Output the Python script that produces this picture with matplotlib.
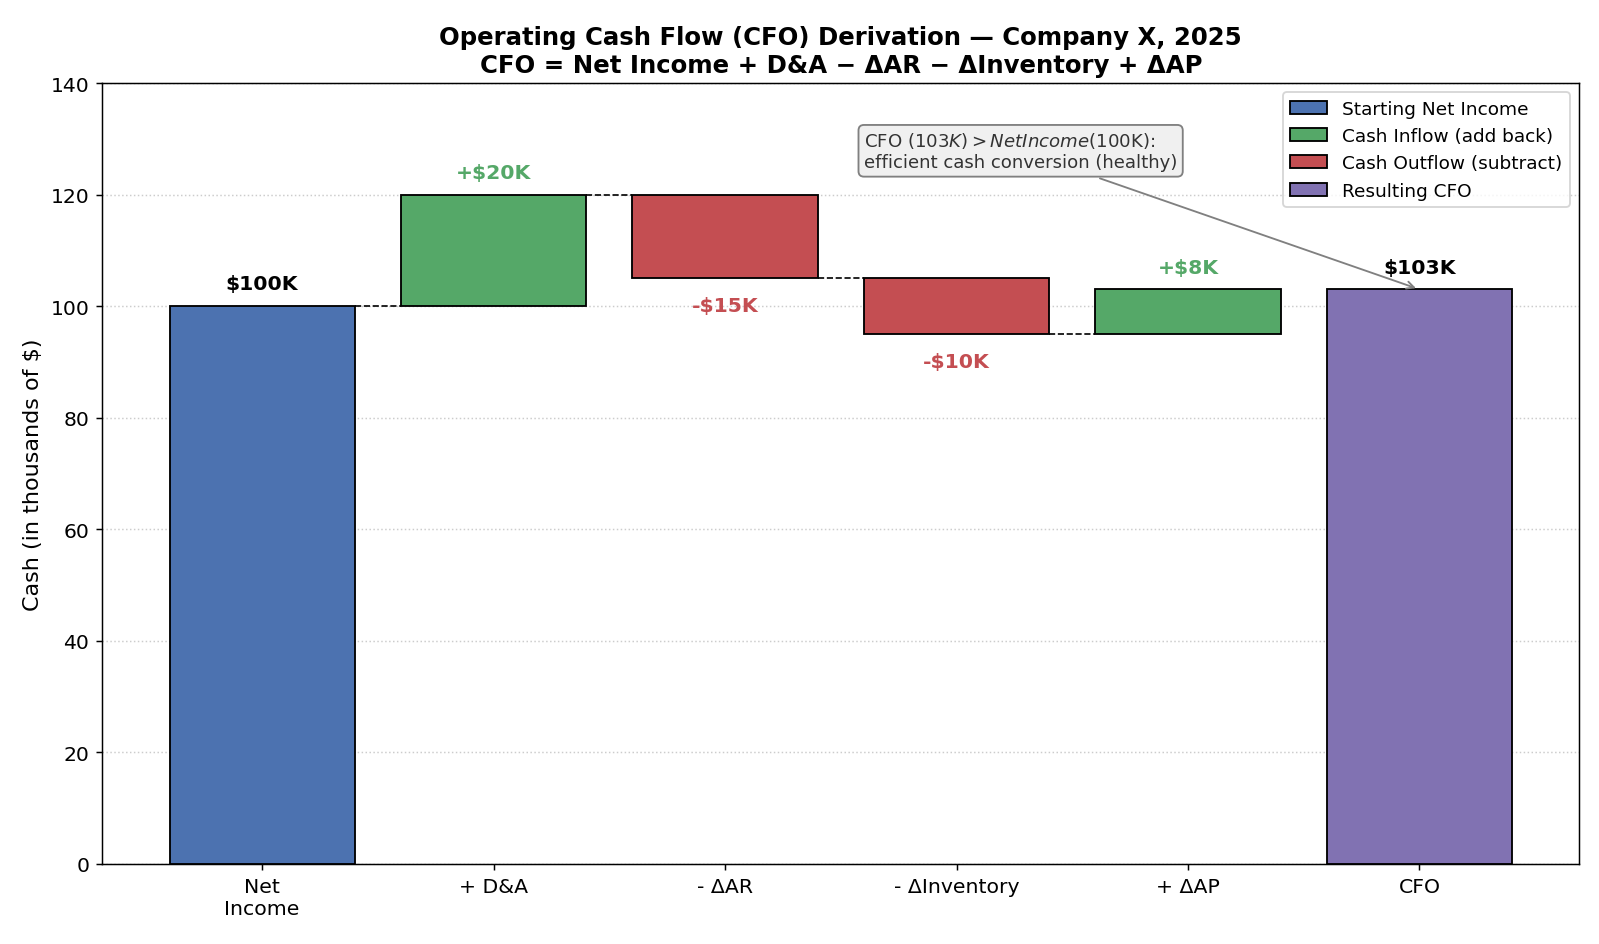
import matplotlib
matplotlib.use("Agg")
import matplotlib.pyplot as plt
from matplotlib.patches import Patch

# waterfall steps, thousands of $
labels = ["Net\nIncome", "+ D&A", "- ΔAR", "- ΔInventory", "+ ΔAP", "CFO"]
changes = [100, 20, -15, -10, 8]
kinds = ["start", "in", "out", "out", "in", "end"]

colors = {"start": "#4C72B0", "in": "#55A868", "out": "#C44E52", "end": "#8172B2"}

cfo = sum(changes)
bottoms, heights = [], []
running = 0
for i, c in enumerate(changes):
    if i == 0:
        bottoms.append(0)
        heights.append(c)
    else:
        bottoms.append(min(running, running + c))
        heights.append(abs(c))
    running += c
bottoms.append(0)
heights.append(cfo)

fig, ax = plt.subplots(figsize=(12, 7.0875), dpi=133.333)
x = list(range(len(labels)))
ax.bar(x, heights, bottom=bottoms, width=0.8,
       color=[colors[k] for k in kinds], edgecolor="black", linewidth=1, zorder=3)

# connectors between the step bars (none into the final CFO bar)
running = 0
for i, c in enumerate(changes[:-1]):
    running += c
    ax.plot([i + 0.4, i + 0.6], [running, running], color="black",
            linestyle="--", linewidth=0.9, zorder=2)

# value labels
for i, (b, h, k) in enumerate(zip(bottoms, heights, kinds)):
    if k in ("start", "end"):
        ax.text(i, b + h + 2.3, f"${h}K", ha="center", va="bottom",
                fontsize=11, fontweight="bold", color="black")
    elif k == "in":
        ax.text(i, b + h + 2.3, f"+${h}K", ha="center", va="bottom",
                fontsize=11, fontweight="bold", color=colors["in"])
    else:
        ax.text(i, b - 3.2, f"-${h}K", ha="center", va="top",
                fontsize=11, fontweight="bold", color=colors["out"])

ax.set_xticks(x)
ax.set_xticklabels(labels, fontsize=11)
ax.tick_params(axis="y", labelsize=11)
ax.set_ylim(0, 140)
ax.set_ylabel("Cash (in thousands of $)", fontsize=12)
ax.set_title("Operating Cash Flow (CFO) Derivation — Company X, 2025\n"
             "CFO = Net Income + D&A − ΔAR − ΔInventory + ΔAP",
             fontsize=13.2, fontweight="bold")
ax.yaxis.grid(True, linestyle=":", color="#cccccc", linewidth=0.8, zorder=0)
ax.set_axisbelow(True)

ax.annotate(f"CFO (${cfo}K) > Net Income (${changes[0]}K):\nefficient cash conversion (healthy)",
            xy=(5, cfo), xytext=(2.6, 124.2), fontsize=9.8, color="#333333",
            ha="left", va="bottom",
            bbox=dict(boxstyle="round,pad=0.3", facecolor="#f0f0f0", edgecolor="gray"),
            arrowprops=dict(arrowstyle="->", color="gray", linewidth=1))

handles = [Patch(facecolor=colors["start"], edgecolor="black", label="Starting Net Income"),
           Patch(facecolor=colors["in"], edgecolor="black", label="Cash Inflow (add back)"),
           Patch(facecolor=colors["out"], edgecolor="black", label="Cash Outflow (subtract)"),
           Patch(facecolor=colors["end"], edgecolor="black", label="Resulting CFO")]
ax.legend(handles=handles, loc="upper right", fontsize=10)

fig.subplots_adjust(left=0.064, right=0.987, top=0.911, bottom=0.085)
fig.savefig("out.png", dpi=133.333)
